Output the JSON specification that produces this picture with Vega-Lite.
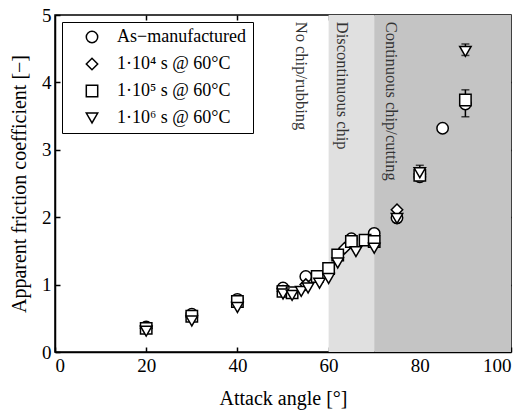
{
  "$schema": "https://vega.github.io/schema/vega-lite/v6.json",
  "width": 456,
  "height": 337,
  "autosize": {"type": "none"},
  "padding": {"left": 55, "top": 15, "right": 19, "bottom": 60},
  "background": "white",
  "config": {
    "view": {"stroke": "black", "strokeWidth": 1.5},
    "font": "'Liberation Serif', 'Times New Roman', Times, serif",
    "axis": {
      "grid": false,
      "domainColor": "black",
      "domainWidth": 1.5,
      "tickColor": "black",
      "tickWidth": 1.5,
      "tickSize": -5,
      "labelFont": "'Liberation Serif', 'Times New Roman', Times, serif",
      "labelFontSize": 19,
      "labelColor": "black",
      "titleFont": "'Liberation Serif', 'Times New Roman', Times, serif",
      "titleFontSize": 20,
      "titleFontWeight": "normal",
      "titleColor": "black"
    },
    "legend": {
      "labelFont": "'Liberation Serif', 'Times New Roman', Times, serif",
      "labelFontSize": 18,
      "labelColor": "black"
    }
  },
  "datasets": {
    "regions": [
      {"x0": 60, "x1": 70, "zone": "Discontinuous"},
      {"x0": 70, "x1": 100, "zone": "Continuous"}
    ],
    "labels": [
      {"label": "No chip/rubbing", "x": 53.9, "y": 4.9},
      {"label": "Discontinuous chip", "x": 63.0, "y": 4.9},
      {"label": "Continuous chip/cutting", "x": 73.6, "y": 4.9}
    ],
    "points": [
      {"series": "As−manufactured", "angle": 20, "mu": 0.37},
      {"series": "As−manufactured", "angle": 30, "mu": 0.56},
      {"series": "As−manufactured", "angle": 40, "mu": 0.78},
      {"series": "As−manufactured", "angle": 50, "mu": 0.95},
      {"series": "As−manufactured", "angle": 55, "mu": 1.12},
      {"series": "As−manufactured", "angle": 65, "mu": 1.68},
      {"series": "As−manufactured", "angle": 70, "mu": 1.76},
      {"series": "As−manufactured", "angle": 75, "mu": 1.99},
      {"series": "As−manufactured", "angle": 80, "mu": 2.6},
      {"series": "As−manufactured", "angle": 85, "mu": 3.32},
      {"series": "As−manufactured", "angle": 90, "mu": 3.68},
      {"series": "1·10⁴ s @ 60°C", "angle": 20, "mu": 0.35},
      {"series": "1·10⁴ s @ 60°C", "angle": 30, "mu": 0.52},
      {"series": "1·10⁴ s @ 60°C", "angle": 40, "mu": 0.74},
      {"series": "1·10⁴ s @ 60°C", "angle": 50, "mu": 0.9},
      {"series": "1·10⁴ s @ 60°C", "angle": 55, "mu": 1.0},
      {"series": "1·10⁴ s @ 60°C", "angle": 63.5, "mu": 1.54},
      {"series": "1·10⁴ s @ 60°C", "angle": 75, "mu": 2.11},
      {"series": "1·10⁴ s @ 60°C", "angle": 80, "mu": 2.64},
      {"series": "1·10⁵ s @ 60°C", "angle": 20, "mu": 0.35},
      {"series": "1·10⁵ s @ 60°C", "angle": 30, "mu": 0.53},
      {"series": "1·10⁵ s @ 60°C", "angle": 40, "mu": 0.75},
      {"series": "1·10⁵ s @ 60°C", "angle": 50, "mu": 0.9},
      {"series": "1·10⁵ s @ 60°C", "angle": 52, "mu": 0.88},
      {"series": "1·10⁵ s @ 60°C", "angle": 57.5, "mu": 1.12},
      {"series": "1·10⁵ s @ 60°C", "angle": 60, "mu": 1.24},
      {"series": "1·10⁵ s @ 60°C", "angle": 62, "mu": 1.44},
      {"series": "1·10⁵ s @ 60°C", "angle": 65, "mu": 1.64},
      {"series": "1·10⁵ s @ 60°C", "angle": 68, "mu": 1.66},
      {"series": "1·10⁵ s @ 60°C", "angle": 70, "mu": 1.64},
      {"series": "1·10⁵ s @ 60°C", "angle": 80, "mu": 2.62},
      {"series": "1·10⁵ s @ 60°C", "angle": 90, "mu": 3.74, "lo": 3.49, "hi": 3.89},
      {"series": "1·10⁶ s @ 60°C", "angle": 20, "mu": 0.31},
      {"series": "1·10⁶ s @ 60°C", "angle": 30, "mu": 0.46},
      {"series": "1·10⁶ s @ 60°C", "angle": 40, "mu": 0.66},
      {"series": "1·10⁶ s @ 60°C", "angle": 50, "mu": 0.86},
      {"series": "1·10⁶ s @ 60°C", "angle": 52, "mu": 0.84},
      {"series": "1·10⁶ s @ 60°C", "angle": 54, "mu": 0.9},
      {"series": "1·10⁶ s @ 60°C", "angle": 55.5, "mu": 0.95},
      {"series": "1·10⁶ s @ 60°C", "angle": 58, "mu": 1.02},
      {"series": "1·10⁶ s @ 60°C", "angle": 60, "mu": 1.09},
      {"series": "1·10⁶ s @ 60°C", "angle": 62, "mu": 1.32},
      {"series": "1·10⁶ s @ 60°C", "angle": 66, "mu": 1.49},
      {"series": "1·10⁶ s @ 60°C", "angle": 70, "mu": 1.54},
      {"series": "1·10⁶ s @ 60°C", "angle": 75, "mu": 1.98},
      {"series": "1·10⁶ s @ 60°C", "angle": 80, "mu": 2.66, "lo": 2.55, "hi": 2.77},
      {"series": "1·10⁶ s @ 60°C", "angle": 90, "mu": 4.46, "lo": 4.4, "hi": 4.57}
    ]
  },
  "layer": [
    {
      "data": {"name": "regions"},
      "mark": {"type": "rect", "strokeWidth": 0},
      "encoding": {
        "x": {
          "field": "x0", "type": "quantitative",
          "scale": {"domain": [0, 100], "nice": false},
          "axis": {"orient": "bottom", "values": [0, 20, 40, 60, 80, 100], "title": "Attack angle [°]", "labelPadding": 9, "titlePadding": 13}
        },
        "x2": {"field": "x1"},
        "color": {
          "field": "zone", "type": "nominal",
          "scale": {"domain": ["Discontinuous", "Continuous"], "range": ["#e0e0e0", "#c4c4c4"]},
          "legend": null
        }
      }
    },
    {
      "data": {"name": "labels"},
      "mark": {"type": "text", "angle": 90, "align": "left", "baseline": "middle", "fontSize": 16.5, "font": "'Liberation Serif', 'Times New Roman', Times, serif", "color": "#333333"},
      "encoding": {
        "x": {
          "field": "x", "type": "quantitative",
          "axis": {"orient": "top", "values": [20, 40, 60, 80], "labels": false, "title": null, "domain": false}
        },
        "y": {
          "field": "y", "type": "quantitative",
          "scale": {"domain": [0, 5], "nice": false},
          "axis": {"orient": "right", "values": [1, 2, 3, 4], "labels": false, "title": null, "domain": false}
        },
        "text": {"field": "label"}
      }
    },
    {
      "data": {"name": "points"},
      "transform": [{"filter": "isValid(datum.lo)"}],
      "mark": {"type": "rule", "color": "black", "strokeWidth": 1.5},
      "encoding": {
        "x": {"field": "angle", "type": "quantitative", "axis": null},
        "y": {"field": "lo", "type": "quantitative", "axis": null},
        "y2": {"field": "hi"}
      }
    },
    {
      "data": {"name": "points"},
      "transform": [{"filter": "isValid(datum.lo)"}],
      "mark": {"type": "tick", "orient": "horizontal", "color": "black", "size": 8, "thickness": 1.5},
      "encoding": {
        "x": {"field": "angle", "type": "quantitative", "axis": null},
        "y": {"field": "hi", "type": "quantitative", "axis": null}
      }
    },
    {
      "data": {"name": "points"},
      "transform": [{"filter": "isValid(datum.lo)"}],
      "mark": {"type": "tick", "orient": "horizontal", "color": "black", "size": 8, "thickness": 1.5},
      "encoding": {
        "x": {"field": "angle", "type": "quantitative", "axis": null},
        "y": {"field": "lo", "type": "quantitative", "axis": null}
      }
    },
    {
      "data": {"name": "points"},
      "mark": {"type": "point", "filled": true, "fill": "white", "stroke": "black", "strokeWidth": 1.5, "size": 130, "opacity": 1},
      "encoding": {
        "x": {"field": "angle", "type": "quantitative", "axis": null},
        "y": {
          "field": "mu", "type": "quantitative",
          "axis": {"orient": "left", "values": [0, 1, 2, 3, 4, 5], "title": "Apparent friction coefficient [−]", "labelPadding": 9, "titlePadding": 12}
        },
        "shape": {
          "field": "series", "type": "nominal",
          "scale": {
            "domain": ["As−manufactured", "1·10⁴ s @ 60°C", "1·10⁵ s @ 60°C", "1·10⁶ s @ 60°C"],
            "range": ["circle", "diamond", "square", "triangle-down"]
          },
          "legend": {
            "title": null,
            "orient": "top-left",
            "offset": 7,
            "fillColor": "white",
            "strokeColor": "black",
            "padding": 6,
            "symbolOffset": 15,
            "labelOffset": 16,
            "rowPadding": 9,
            "symbolSize": 130,
            "labelLimit": 300,
            "encode": {
              "symbols": {
                "update": {
                  "fill": {"value": "white"},
                  "stroke": {"value": "black"},
                  "strokeWidth": {"value": 1.5},
                  "opacity": {"value": 1}
                }
              }
            }
          }
        }
      }
    }
  ],
  "resolve": {"axis": {"x": "independent", "y": "independent"}}
}
